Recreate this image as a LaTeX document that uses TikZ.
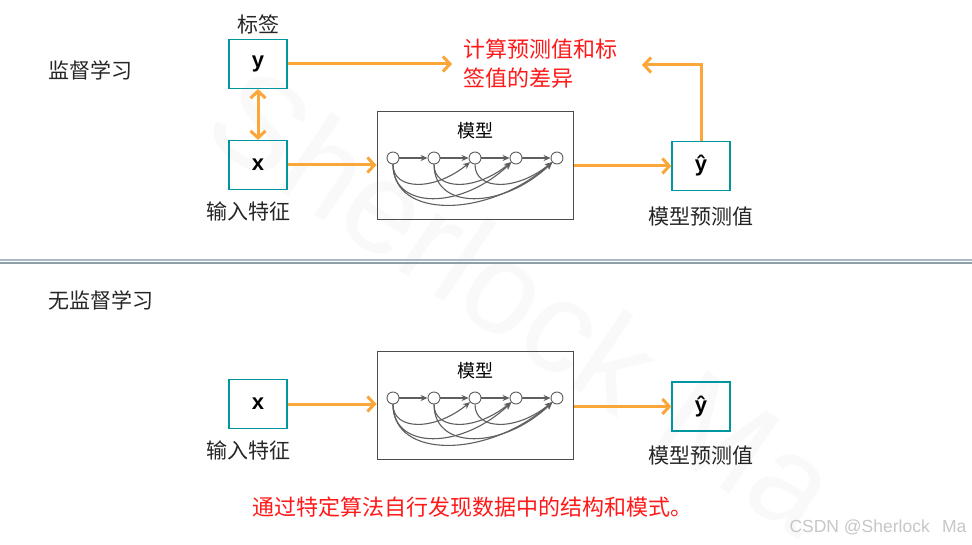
\documentclass[tikz,border=0pt]{standalone}
\usepackage{fontspec}
\setmainfont{Liberation Sans}
\newfontfamily\cjk{Noto Sans CJK SC}
\usetikzlibrary{arrows.meta,positioning,calc}
\definecolor{flow}{RGB}{250,166,56}
\definecolor{boxline}{RGB}{0,150,160}
\definecolor{note}{RGB}{255,25,25}
\definecolor{ruleA}{RGB}{170,185,195}
\definecolor{ruleB}{RGB}{140,160,170}
\definecolor{netgray}{RGB}{95,95,95}
\tikzset{
  var/.style={draw=boxline,line width=1.2pt,minimum width=58pt,minimum height=49pt,
    inner sep=0pt,font=\fontsize{22}{22}\selectfont\bfseries},
  flowarrow/.style={draw=flow,line width=3pt,-{Straight Barb[length=7pt,width=15pt]}},
  modelbox/.style={draw=netgray!80!black,line width=1pt,minimum width=196pt,
    minimum height=108pt,inner sep=0pt},
  unit/.style={circle,draw=netgray,fill=white,line width=0.9pt,minimum size=12pt,inner sep=0pt},
  link/.style={draw=netgray,line width=1.1pt,-{Stealth[length=7pt,width=6pt]}},
  caption/.style={font=\cjk\fontsize{21}{21}\selectfont,text=black!85},
  boxtitle/.style={font=\cjk\fontsize{18}{18}\selectfont},
  remark/.style={font=\cjk\fontsize{22}{29}\selectfont,text=note},
  net/.pic={
    \foreach \i in {1,...,5}
      \node[unit] (-n\i) at ({(\i-1)*41},0) {};
    \foreach \i [count=\j from 2] in {1,...,4}
      \draw[link] (-n\i) -- (-n\j);
    % skip connections below the row
    \foreach \a/\b/\h/\w in {1/3/33/40,1/4/52/55,1/5/61/70,2/4/33/40,2/5/52/55,3/5/33/40}
      \draw[link] (-n\a) .. controls +(0,\h) and +(-\w,\h) .. (-n\b);
  }
}

\begin{document}
\begin{tikzpicture}[x=1pt,y=-1pt]
\useasboundingbox[fill=white] (0,0) rectangle (972,545);

% watermark
\node[rotate=-34,text=black!2.5,font=\fontsize{130}{130}\selectfont] (mark) at (525,300) {Sherlock Ma};

% supervised
\node[caption] (sup) at (90,70) {监督学习};
\node[var] (y) at (258,64) {y};
\node[caption,above=1pt of y] (tag) {标签};
\node[var] (x1) at (258,165) {x};
\node[caption] (in1) at (248,211) {输入特征};
\node[modelbox] (m1) at (475,166) {};
\node[boxtitle] (t1) at (475,131) {模型};
\pic (net1) at (393,158) {net};
\node[var] (h1) at (701,166) {ŷ};
\node[caption] (out1) at (701,217) {模型预测值};
\node[remark,align=left,anchor=west] (diff) at (460,64) {计算预测值和标\\签值的差异};
\coordinate (cmpL) at (452,64);
\coordinate (cmpR) at (642,65);

\draw[flowarrow] (y) -- (cmpL);
\draw[flowarrow,{Straight Barb[length=7pt,width=15pt]}-{Straight Barb[length=7pt,width=15pt]}] (y) -- (x1);
\draw[flowarrow] (x1.east) -- (x1.east -| m1.west);
\draw[flowarrow] (m1) -- (h1);
\draw[flowarrow] (h1) |- (cmpR);

% separator
\draw[ruleA,line width=1.3pt] (0,260) -- (972,260);
\draw[ruleB,line width=2pt] (0,262.7) -- (972,262.7);

% unsupervised
\node[caption] (unsup) at (101,300) {无监督学习};
\node[var] (x2) at (258,404) {x};
\node[caption] (in2) at (248,450) {输入特征};
\node[modelbox] (m2) at (475,405.5) {};
\node[boxtitle] (t2) at (475,371) {模型};
\pic (net2) at (393,398) {net};
\node[var] (h2) at (701,406.5) {ŷ};
\node[caption] (out2) at (701,456) {模型预测值};
\node[remark] (goal) at (472,507) {通过特定算法自行发现数据中的结构和模式。};

\draw[flowarrow] (x2.east) -- (x2.east -| m2.west);
\draw[flowarrow] (m2.east |- h2) -- (h2);

\node[anchor=west,text=black!22,font=\fontsize{17.5}{17.5}\selectfont] (sign) at (786,527) {CSDN @Sherlock\hspace{0.7em}Ma};
\end{tikzpicture}
\end{document}
